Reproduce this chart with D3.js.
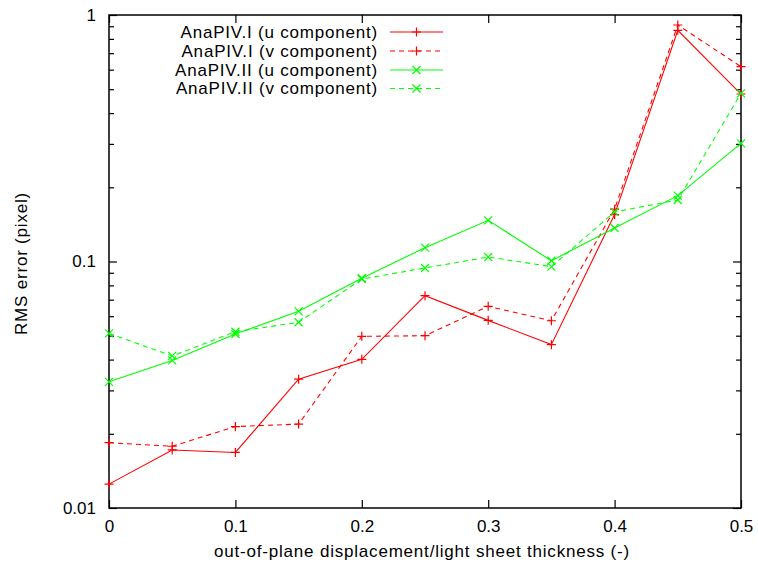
<!DOCTYPE html>
<html><head><meta charset="utf-8">
<script src="https://cdn.jsdelivr.net/npm/d3@7"></script>
<style>html,body{margin:0;padding:0;background:#fff}</style>
</head><body>
<svg id="c" width="758" height="567"></svg>
<script>
const xValues = [0, 0.05, 0.1, 0.15, 0.2, 0.25, 0.3, 0.35, 0.4, 0.45, 0.5];
const seriesNames = ["AnaPIV.I (u component)", "AnaPIV.I (v component)", "AnaPIV.II (u component)", "AnaPIV.II (v component)"];
const anaI_u  = [0.0125, 0.0172, 0.0168, 0.0333, 0.0401, 0.0727, 0.0577, 0.0460, 0.155, 0.867, 0.478];
const anaI_v  = [0.0184, 0.0178, 0.0214, 0.0219, 0.0497, 0.0500, 0.0658, 0.0575, 0.163, 0.911, 0.617];
const anaII_u = [0.0325, 0.0397, 0.0508, 0.0628, 0.0855, 0.1138, 0.1469, 0.1007, 0.1367, 0.185, 0.3016];
const anaII_v = [0.0511, 0.0414, 0.0519, 0.0567, 0.0849, 0.0941, 0.1043, 0.0953, 0.159, 0.1776, 0.481];
const xTicks = [0, 0.1, 0.2, 0.3, 0.4, 0.5];
const xTickLabels = ["0", "0.1", "0.2", "0.3", "0.4", "0.5"];
const yTicks = [0.01, 0.1, 1];
const yTickLabels = ["0.01", "0.1", "1"];
const xLabel = "out-of-plane displacement/light sheet thickness (-)";
const yLabel = "RMS error (pixel)";

const series = [
  {name: seriesNames[0], values: anaI_u,  color: "#ff0000", dash: null,  marker: "plus"},
  {name: seriesNames[1], values: anaI_v,  color: "#ff0000", dash: "5,4", marker: "plus"},
  {name: seriesNames[2], values: anaII_u, color: "#00ff00", dash: null,  marker: "cross"},
  {name: seriesNames[3], values: anaII_v, color: "#00ff00", dash: "5,4", marker: "cross"}
];

const L = 109, R = 741, T = 15, B = 508;
const font = "'Liberation Sans', Arial, Helvetica, sans-serif";
const fs = 17;
const ls = "0.8px";
const svg = d3.select("#c");
const x = d3.scaleLinear().domain([0, 0.5]).range([L, R]);
const y = d3.scaleLog().domain([0.01, 1]).range([B, T]);

const minorY = [];
[0.01, 0.1].forEach(d => { for (let k = 2; k <= 9; k++) minorY.push(d * k); });

function styleAxis(g) {
  g.select(".domain").remove();
  g.selectAll(".tick line").attr("stroke", "#000").attr("stroke-width", 1.2);
  g.selectAll("text").attr("font-family", font).attr("font-size", fs).attr("fill", "#000");
}

// bottom axis
svg.append("g").attr("transform", `translate(0,${B})`)
  .call(d3.axisBottom(x).tickValues(xTicks).tickSizeInner(-8).tickSizeOuter(0).tickPadding(12)
    .tickFormat((d, i) => xTickLabels[i]))
  .call(styleAxis);
// top mirror
svg.append("g").attr("transform", `translate(0,${T})`)
  .call(d3.axisTop(x).tickValues(xTicks).tickSizeInner(-8).tickSizeOuter(0).tickFormat(""))
  .call(styleAxis);
// left axis
svg.append("g").attr("transform", `translate(${L},0)`)
  .call(d3.axisLeft(y).tickValues(yTicks).tickSizeInner(-8).tickSizeOuter(0).tickPadding(13)
    .tickFormat((d, i) => yTickLabels[i]))
  .call(styleAxis);
svg.append("g").attr("transform", `translate(${L},0)`)
  .call(d3.axisLeft(y).tickValues(minorY).tickSizeInner(-5).tickSizeOuter(0).tickFormat(""))
  .call(styleAxis);
// right mirror
svg.append("g").attr("transform", `translate(${R},0)`)
  .call(d3.axisRight(y).tickValues(yTicks).tickSizeInner(-8).tickSizeOuter(0).tickFormat(""))
  .call(styleAxis);
svg.append("g").attr("transform", `translate(${R},0)`)
  .call(d3.axisRight(y).tickValues(minorY).tickSizeInner(-5).tickSizeOuter(0).tickFormat(""))
  .call(styleAxis);

// frame
svg.append("rect").attr("x", L).attr("y", T).attr("width", R - L).attr("height", B - T)
  .attr("fill", "none").attr("stroke", "#000").attr("stroke-width", 1.5);

// axis labels
svg.append("text").attr("x", (L + R) / 2 - 3).attr("y", 557).attr("text-anchor", "middle")
  .attr("font-family", font).attr("font-size", fs).attr("letter-spacing", ls).text(xLabel);
svg.append("text").attr("transform", `translate(27,${(T + B) / 2 + 2}) rotate(-90)`).attr("text-anchor", "middle")
  .attr("font-family", font).attr("font-size", fs).attr("letter-spacing", ls).text(yLabel);

function drawMarker(g, cx, cy, type, color) {
  const s = 4.5;
  if (type === "plus") {
    g.append("path").attr("d", `M${cx - s},${cy}H${cx + s}M${cx},${cy - s}V${cy + s}`)
      .attr("stroke", color).attr("stroke-width", 1.2).attr("fill", "none");
  } else {
    const c = 4;
    g.append("path").attr("d", `M${cx - c},${cy - c}L${cx + c},${cy + c}M${cx - c},${cy + c}L${cx + c},${cy - c}`)
      .attr("stroke", color).attr("stroke-width", 1.2).attr("fill", "none");
  }
}

const line = d3.line().x((d, i) => x(xValues[i])).y(d => y(d));
const plot = svg.append("g");
series.forEach(s => {
  plot.append("path").datum(s.values).attr("d", line).attr("fill", "none")
    .attr("stroke", s.color).attr("stroke-width", 1.1)
    .attr("stroke-dasharray", s.dash);
  s.values.forEach((v, i) => drawMarker(plot, x(xValues[i]), y(v), s.marker, s.color));
});

// legend
const legY = [32, 51, 70, 88.5];
series.forEach((s, i) => {
  const g = svg.append("g");
  g.append("text").attr("x", 378).attr("y", legY[i]).attr("dy", "0.35em").attr("text-anchor", "end")
    .attr("font-family", font).attr("font-size", fs).attr("letter-spacing", ls).text(s.name);
  g.append("line").attr("x1", 390).attr("x2", 443).attr("y1", legY[i]).attr("y2", legY[i])
    .attr("stroke", s.color).attr("stroke-width", 1.1).attr("stroke-dasharray", s.dash);
  drawMarker(g, 416.5, legY[i], s.marker, s.color);
});
</script>
</body></html>
